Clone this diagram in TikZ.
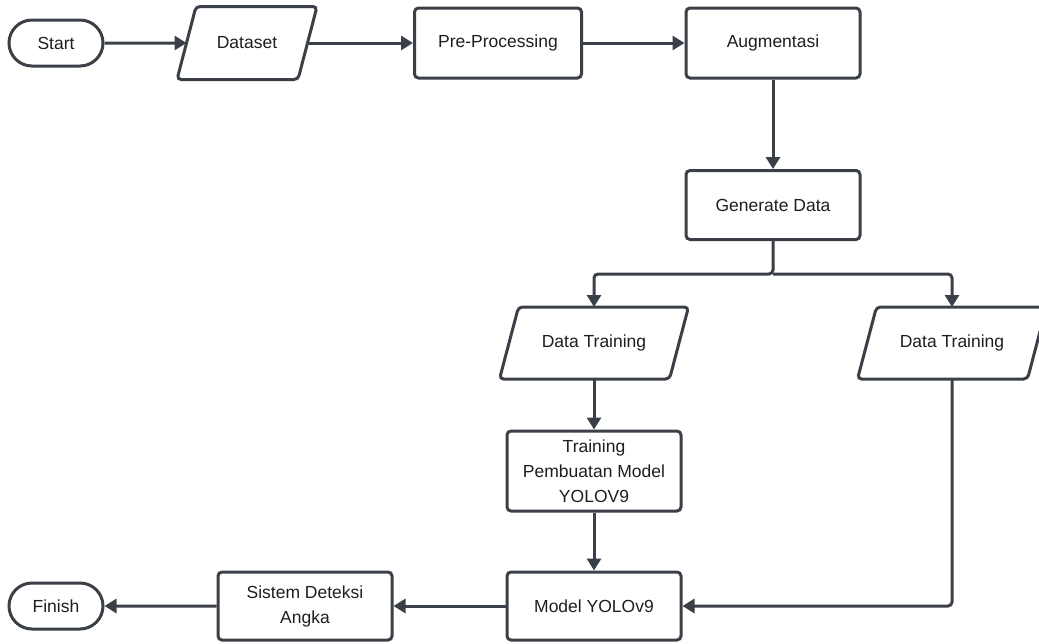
\documentclass[tikz,border=0pt]{standalone}
\usepackage{fontspec}
\setmainfont{Liberation Sans}
\usetikzlibrary{shapes.misc,positioning,arrows.meta}
\definecolor{linegray}{HTML}{3B4048}
\definecolor{textgray}{HTML}{1E1E1E}

\begin{document}
\begin{tikzpicture}[x=1pt,y=-1pt,on grid,line width=3pt,
	font=\fontsize{17.5}{25}\selectfont,
	proc/.style={rectangle,draw=linegray,rounded corners=4pt,text=textgray,align=center,inner sep=0pt,minimum width=174pt,minimum height=69pt},
	inout/.style={rectangle,text=textgray,inner sep=0pt,minimum width=167pt,minimum height=69pt},
	term/.style={rounded rectangle,draw=linegray,text=textgray,inner sep=0pt,minimum width=94pt,minimum height=46pt},
	flow/.style={draw=linegray,rounded corners=4pt,-{Triangle[length=12pt,width=14pt]}}]
	\useasboundingbox (0,0) rectangle (1039,643);
	\node[term] (start) at (56,43) {Start};
	\node[inout,minimum width=118pt,minimum height=70pt] (dataset) [right=191pt of start] {Dataset};
	\node[proc,minimum width=167pt,minimum height=70pt] (prep) [right=251pt of dataset] {Pre-Processing};
	\node[proc,minimum height=70pt] (augm) [right=275pt of prep] {Augmentasi};
	\node[proc] (gendata) [below=162pt of augm] {Generate Data};
	\coordinate[below=69pt of gendata] (split);
	\node[inout] (trainl) [below left=138pt and 179pt of gendata] {Data Training};
	\node[inout] (trainr) [below right=138pt and 179pt of gendata] {Data Training};
	\node[proc,minimum height=80pt] (buildm) [below=128pt of trainl] {Training\\Pembuatan Model\\YOLOV9};
	\node[proc,minimum height=68pt] (model) [below=135pt of buildm] {Model YOLOv9};
	\node[proc,minimum height=68pt] (detect) [left=289pt of model] {Sistem Deteksi\\Angka};
	\node[term] (finish) [left=249pt of detect] {Finish};
	% jajaran genjang untuk input/output
	\foreach \n in {dataset,trainl,trainr}
		\draw[linegray,rounded corners=4pt] ([xshift=9.5pt]\n.north west) -- ([xshift=9.5pt]\n.north east)
			-- ([xshift=-9.5pt]\n.south east) -- ([xshift=-9.5pt]\n.south west) -- cycle;
	% alur utama
	\draw[flow] (start) -- (dataset);
	\draw[flow] (dataset) -- (prep);
	\draw[flow] (prep) -- (augm);
	\draw[flow] (augm) -- (gendata);
	\draw[flow] (gendata) -- (split) -| (trainl);
	\draw[flow] (split) -| (trainr);
	\draw[flow] (trainl) -- (buildm);
	\draw[flow] (buildm) -- (model);
	\draw[flow] (trainr) |- (model);
	\draw[flow] (model) -- (detect);
	\draw[flow] (detect) -- (finish);
\end{tikzpicture}
\end{document}
